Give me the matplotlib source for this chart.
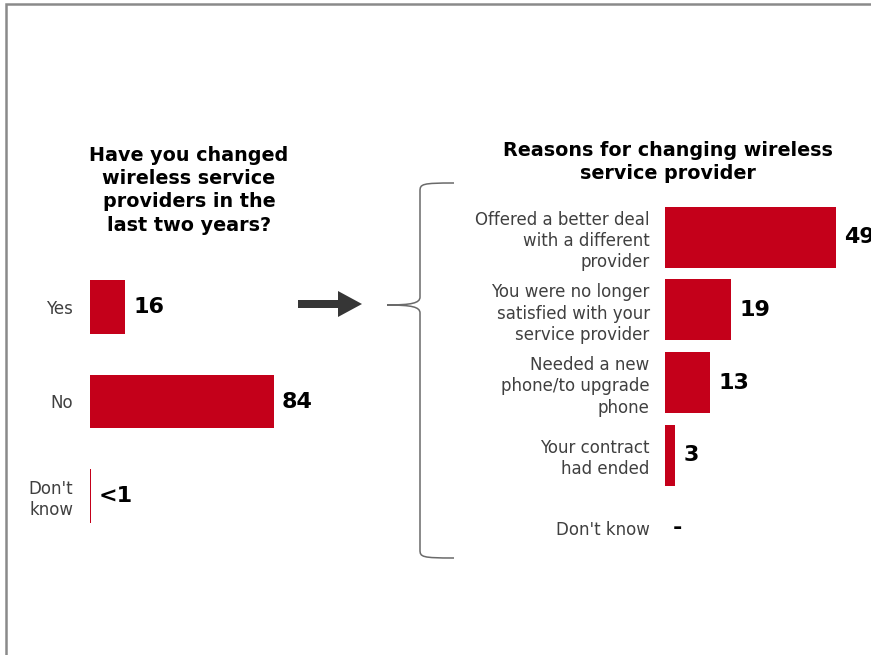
import matplotlib
matplotlib.use("Agg")
import matplotlib.pyplot as plt
from matplotlib.path import Path as MPath
from matplotlib.patches import PathPatch, FancyArrow

plt.rcParams["font.family"] = ["DejaVu Sans"]

# survey results (percent)
changed_cats = ["Yes", "No", "Don't\nknow"]
changed_vals = [16, 84, 0.5]
changed_text = ["16", "84", "<1"]

reason_cats = [
    "Offered a better deal\nwith a different\nprovider",
    "You were no longer\nsatisfied with your\nservice provider",
    "Needed a new\nphone/to upgrade\nphone",
    "Your contract\nhad ended",
    "Don't know",
]
reason_vals = [49, 19, 13, 3, 0]
reason_text = ["49", "19", "13", "3", "-"]

left_title = "Have you changed\nwireless service\nproviders in the\nlast two years?"
right_title = "Reasons for changing wireless\nservice provider"

RED = "#C4001A"
GREY_TXT = "#404040"
W, H = 871, 655
DPI = 100

fig = plt.figure(figsize=(W / DPI, H / DPI), dpi=DPI)
fig.patch.set_facecolor("white")


def px_axes(x0, top, width, bottom):
    # axes placed by pixel box (origin at top-left)
    return fig.add_axes([x0 / W, 1 - bottom / H, width / W, (bottom - top) / H])


def bar_panel(ax, cats, vals, texts, height, pad, xmax):
    ax.barh(range(len(vals)), vals, height=height, color=RED, edgecolor="none")
    ax.set_xlim(0, xmax)
    ax.set_ylim(len(vals) - 0.5, -0.5)
    ax.set_yticks(range(len(cats)))
    ax.set_yticklabels(cats, fontsize=12, color=GREY_TXT, linespacing=1.24)
    ax.tick_params(axis="y", length=0, pad=pad)
    ax.set_xticks([])
    for s in ax.spines.values():
        s.set_visible(False)
    ax.patch.set_alpha(0)
    for i, (v, t) in enumerate(zip(vals, texts)):
        ax.annotate(t, (v, i), xytext=(8, 0), textcoords="offset pixels",
                    ha="left", va="center", fontsize=16, fontweight="bold",
                    color="black", annotation_clip=False)


# left panel: 2.19 px per point
ax1 = px_axes(90, 260, 219, 543)
bar_panel(ax1, changed_cats, changed_vals, changed_text, 0.57, 12, 100)

# right panel: 3.49 px per point
ax2 = px_axes(665, 201, 209.4, 564)
bar_panel(ax2, reason_cats, reason_vals, reason_text, 0.84, 11, 60)

# overlay in pixel coordinates for titles, arrow, brace, frame
ov = fig.add_axes([0, 0, 1, 1], zorder=-1)
ov.set_xlim(0, W)
ov.set_ylim(H, 0)
ov.axis("off")

ov.text(189, 146, left_title, ha="center", va="top", fontsize=13.8,
        fontweight="bold", color="black", linespacing=1.28)
ov.text(668, 141, right_title, ha="center", va="top", fontsize=13.8,
        fontweight="bold", color="black", linespacing=1.28)

ov.add_patch(FancyArrow(298, 304, 64, 0, width=8, head_width=26,
                        head_length=24, length_includes_head=True,
                        color="#363636", linewidth=0))

# curly brace
bx, tip, top, mid, bot, end = 420, 387, 183, 305, 558, 454
verts = [
    (end, top), (bx + 2, top), (bx, top + 1), (bx, top + 8),
    (bx, mid - 8),
    (bx, mid - 2), (bx - 8, mid), (tip, mid),
    (bx - 8, mid), (bx, mid + 2), (bx, mid + 8),
    (bx, bot - 8),
    (bx, bot - 1), (bx + 2, bot), (end, bot),
]
codes = [MPath.MOVETO, MPath.CURVE4, MPath.CURVE4, MPath.CURVE4,
         MPath.LINETO,
         MPath.CURVE4, MPath.CURVE4, MPath.CURVE4,
         MPath.CURVE4, MPath.CURVE4, MPath.CURVE4,
         MPath.LINETO,
         MPath.CURVE4, MPath.CURVE4, MPath.CURVE4]
ov.add_patch(PathPatch(MPath(verts, codes), facecolor="none",
                       edgecolor="#6a6a6a", linewidth=1.1))

# outer frame (runs past the bottom/right edges)
ov.plot([6, 6, W + 5], [H + 5, 4, 4], color="#8a8a8a", linewidth=1.8,
        solid_joinstyle="miter", clip_on=False)

fig.savefig("out.png", dpi=DPI)
